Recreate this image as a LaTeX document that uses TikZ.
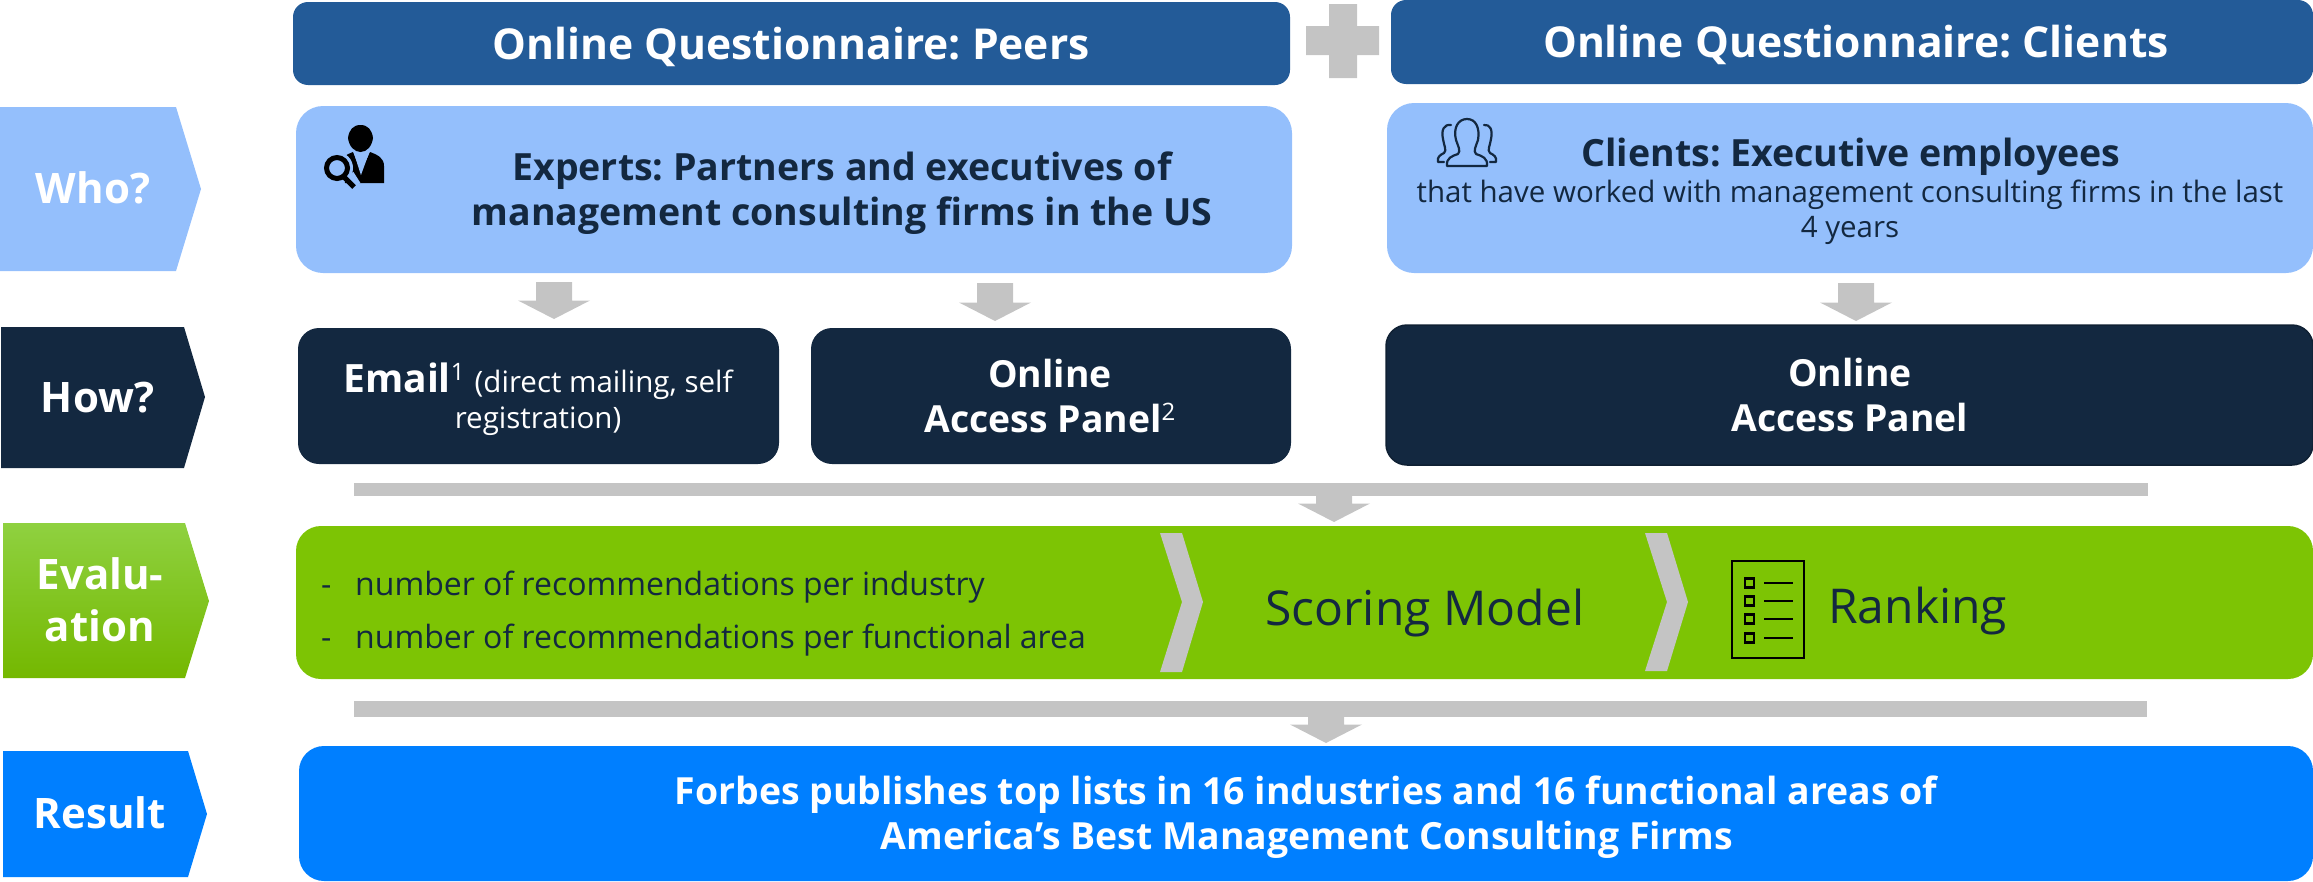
\documentclass[tikz,border=0pt]{standalone}
\usepackage{fontspec}
\setmainfont{Open Sans}
\frenchspacing
\definecolor{headblue}{HTML}{235B98}
\definecolor{lightblue}{HTML}{94BFFC}
\definecolor{navy}{HTML}{132840}
\definecolor{leaf}{HTML}{7DC404}
\definecolor{leaftop}{HTML}{8FD140}
\definecolor{leafmid}{HTML}{7CC800}
\definecolor{leafbot}{HTML}{74B800}
\definecolor{brightblue}{HTML}{007FFF}
\definecolor{greyc}{HTML}{C4C4C4}
\newcommand{\fs}[2]{\fontsize{#1}{#2}\selectfont}
\newcommand{\supr}[1]{\raisebox{12pt}{\normalfont\fs{24}{24}#1}}
% rounded box: name, x1, y1, x2, y2, colour, radius
\newcommand{\rbox}[7]{\node[draw=none,fill=#6,rounded corners=#7,inner sep=0pt,outer sep=0pt,
  minimum width={(#4-#2)*1pt},minimum height={(#5-#3)*1pt},anchor=north west] (#1) at (#2,#3) {};}
% block arrow from named coordinate to named coordinate
\newcommand{\barrow}[2]{\fill[greyc] let \p1=(#1),\p2=(#2) in
  (\x1-18pt,\y1) -- (\x1+18pt,\y1) -- (\x1+18pt,\y2+18.5pt) -- (\x1+36pt,\y2+18.5pt)
  -- (\x2,\y2) -- (\x1-36pt,\y2+18.5pt) -- (\x1-18pt,\y2+18.5pt) -- cycle;}
\usetikzlibrary{calc}
\tikzset{
  boldwhite/.style={font=\bfseries\fs{42.6}{47},text=white,anchor=base,inner sep=0pt,align=center},
  rowlabel/.style={font=\bfseries\fs{42}{52},text=white,anchor=base,inner sep=0pt,align=center},
  darkbold/.style={font=\bfseries\fs{37.5}{47},text=navy,anchor=base,inner sep=0pt,align=center},
  darktext/.style={font=\fs{29.5}{36},text=navy,anchor=base,inner sep=0pt,align=center},
  panel/.style={font=\bfseries\fs{37.3}{45},text=white,anchor=base,inner sep=0pt,align=center},
  listtext/.style={font=\fs{32}{32},text=navy,anchor=base west,inner sep=0pt},
  bigtext/.style={font=\fs{48}{48},text=navy,anchor=base west,inner sep=0pt},
  resulttext/.style={font=\bfseries\fs{37.4}{45},text=white,anchor=base,inner sep=0pt,align=center},
}
\begin{document}
\begin{tikzpicture}[x=1pt,y=-1pt]
\useasboundingbox (0,0) rectangle (2313,881);
% headers
\rbox{headP}{293}{2}{1290}{85}{headblue}{15pt}
\rbox{headC}{1391}{0}{2313}{84}{headblue}{15pt}
\node[boldwhite] (tP) at (791,59) {Online Questionnaire: Peers};
\node[boldwhite] (tC) at (1856,57) {Online Questionnaire: Clients};
\fill[greyc] (1329,4) -- (1357,4) -- (1357,26) -- (1379,26) -- (1379,55) -- (1357,55) -- (1357,78)
  -- (1329,78) -- (1329,55) -- (1306,55) -- (1306,26) -- (1329,26) -- cycle;
% row labels
\fill[lightblue] (0,107) -- (176,107) -- (201,189) -- (176,271) -- (0,271) -- cycle;
\node[rowlabel] (who) at (93,203) {Who?};
\fill[navy] (1,327) -- (184,327) -- (205,397) -- (184,468) -- (1,468) -- cycle;
\node[rowlabel] (how) at (98,412) {How?};
\shade[top color=leaftop,middle color=leafmid,bottom color=leafbot]
  (3,523) -- (185,523) -- (209,601) -- (185,678) -- (3,678) -- cycle;
\node[rowlabel] (eval) at (100,589) {Evalu-};
\node[rowlabel] (eval2) at (100,641) {ation};
\fill[brightblue] (3,751) -- (188,751) -- (207,814) -- (188,877) -- (3,877) -- cycle;
\node[rowlabel] (res) at (100,828) {Result};
% who boxes
\rbox{experts}{296}{106}{1292}{273}{lightblue}{27pt}
\rbox{clients}{1387}{103}{2313}{273}{lightblue}{27pt}
\node[darkbold] (e1) at (842,180) {Experts: Partners and executives of};
\node[darkbold] (e2) at (842,225) {management consulting firms in the US};
\node[darkbold] (c1) at (1851,166) {Clients: Executive employees};
\node[darktext] (c2) at (1850,202) {that have worked with management consulting firms in the last};
\node[darktext] (c3) at (1850,237) {4 years};
% person icon
\fill[black] (360.5,125) .. controls (353,125) and (349,130) .. (348,138) .. controls (349,146) and (354,152) .. (360.5,152)
  .. controls (367,152) and (372,146) .. (373,138) .. controls (372,130) and (368,125) .. (360.5,125) -- cycle;
\fill[black] (384,183) -- (384,166) .. controls (384,158) and (378,155) .. (370,152) -- (361,172)
  -- (353,152) .. controls (348,154) and (344,156) .. (343,158) -- (345,183) -- cycle;
\draw[lightblue,line width=2pt] (354,150) -- (361,172) -- (369,150);
\draw[lightblue,line width=8pt] (350,174) -- (357,185);
\fill[lightblue] (337,168) circle (16);
\draw[black,line width=5pt] (337,168) circle (10.5);
\draw[black,line width=5pt] (344,177) -- (354,187);
% group icon
\begin{scope}[navy,line width=2.2pt,line cap=round,line join=round]
\draw (1447,166) .. controls (1446,158) and (1452,156) .. (1458,154) .. controls (1461,151) and (1458,146) .. (1456,140)
  .. controls (1453,128) and (1458,119) .. (1467,119) .. controls (1476,119) and (1480,128) .. (1478,140)
  .. controls (1476,146) and (1473,151) .. (1476,154) .. controls (1482,156) and (1488,158) .. (1487,166) -- cycle;
\draw (1451,125) .. controls (1444,124) and (1441,130) .. (1443,139) .. controls (1444,146) and (1447,150) .. (1444,153)
  .. controls (1440,155) and (1437,157) .. (1438,162) -- (1444,162);
\draw (1484,125) .. controls (1490,124) and (1493,130) .. (1491,139) .. controls (1490,146) and (1487,150) .. (1490,153)
  .. controls (1494,155) and (1497,157) .. (1496,162) -- (1490,162);
\end{scope}
% arrows row 1
\coordinate (a1s) at (554,282); \coordinate (a1e) at (554,319);
\coordinate (a2s) at (995,283); \coordinate (a2e) at (995,321);
\coordinate (a3s) at (1856,283); \coordinate (a3e) at (1856,321);
\barrow{a1s}{a1e}\barrow{a2s}{a2e}\barrow{a3s}{a3e}
% how boxes
\rbox{email}{298}{328}{779}{464}{navy}{21pt}
\rbox{panelP}{811}{328}{1291}{464}{navy}{21pt}
\rbox{panelC}{1386}{325}{2313}{465}{navy}{21pt}
\draw[navy!80!black,line width=1.5pt,rounded corners=21pt] (panelC.north west) rectangle (panelC.south east);
\node[panel] (m1) at (538,392) {\fs{39}{39}Email\supr{1} {\normalfont\fs{29.5}{32}(direct mailing, self}};
\node[panel] (m2) at (538,428) {\normalfont\fs{29.5}{32}registration)};
\node[panel] (p1) at (1050,387) {Online};
\node[panel] (p2) at (1050,432) {Access Panel\supr{2}};
\node[panel] (q1) at (1850,386) {Online};
\node[panel] (q2) at (1850,431) {Access Panel};
% bar 1
\fill[greyc] (354,483) rectangle (2148,496);
\coordinate (b1s) at (1334,495); \coordinate (b1e) at (1334,522);
\barrow{b1s}{b1e}
% evaluation
\rbox{evalbox}{296}{526}{2313}{679}{leaf}{25pt}
\node[listtext] (n0) at (321,595) {-};
\node[listtext] (n1) at (355,595) {number of recommendations per industry};
\node[listtext] (n2) at (321,648) {-};
\node[listtext] (n3) at (355,648) {number of recommendations per functional area};
\fill[greyc] (1160,533) -- (1182,533) -- (1203,602) -- (1182,672) -- (1160,672) -- (1182,602) -- cycle;
\fill[greyc] (1645,533) -- (1667,533) -- (1688,602) -- (1667,671) -- (1645,671) -- (1667,602) -- cycle;
\node[bigtext] (sm) at (1265,625) {Scoring Model};
\node[bigtext] (rk) at (1828,623) {Ranking};
\draw[black,line width=2.5pt] (1732,561) rectangle (1804,658);
\foreach \yy in {583,601,619,638}{
  \draw[black,line width=2.2pt] (1745,\yy-4.5) rectangle (1754,\yy+4.5);
  \draw[black,line width=2.4pt] (1764,\yy) -- (1793,\yy);
}
% bar 2
\fill[greyc] (354,701) rectangle (2147,717);
\coordinate (b2s) at (1326,716); \coordinate (b2e) at (1326,743);
\barrow{b2s}{b2e}
% result
\rbox{resbox}{299}{746}{2313}{881}{brightblue}{25pt}
\node[resulttext] (r1) at (1306,804) {Forbes publishes top lists in 16 industries and 16 functional areas of};
\node[resulttext] (r2) at (1307,849) {America’s Best Management Consulting Firms};
\end{tikzpicture}
\end{document}
